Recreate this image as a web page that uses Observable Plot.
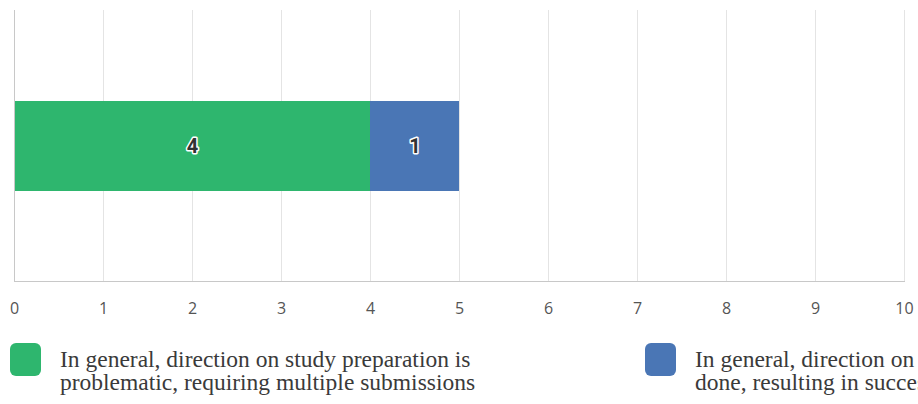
<!DOCTYPE html>
<html>
<head>
<meta charset="utf-8">
<script src="https://cdn.jsdelivr.net/npm/d3@7"></script>
<script src="https://cdn.jsdelivr.net/npm/@observablehq/plot@0.6"></script>
<style>
  html, body { margin: 0; padding: 0; background: #fff; overflow: hidden; }
  #wrap { width: 918px; overflow: hidden; }
  #legend { position: relative; width: 918px; height: 78px; overflow: hidden; }
  .item { position: absolute; top: 17px; display: flex; align-items: flex-start; }
  .swatch { width: 31px; height: 33px; border-radius: 6px; flex: none; }
  .label { margin-left: 19px; margin-top: 5px; width: 480px; font-family: "Liberation Serif", "DejaVu Serif", serif;
           font-size: 23.5px; line-height: 23px; color: #3a3a3a; white-space: normal; }
</style>
</head>
<body>
<div id="wrap">
  <div id="chart"></div>
  <div id="legend"></div>
</div>
<script>
// Responses for one row, stacked left to right
const categories = ["Study preparation"];
const series = [
  "In general, direction on study preparation is problematic, requiring multiple submissions",
  "In general, direction on study preparation is well done, resulting in successful submissions"
];
const values = [4, 1];
const colors = ["#2eb66e", "#4a76b5"];
const xTicks = [0, 1, 2, 3, 4, 5, 6, 7, 8, 9, 10];

const data = series.map((s, i) => ({category: categories[0], series: s, value: values[i]}));

const chart = Plot.plot({
  width: 918,
  height: 326,
  marginLeft: 14,
  marginRight: 14,
  marginTop: 10,
  marginBottom: 45,
  style: {fontFamily: "'Open Sans', Lato, sans-serif", background: "#fff"},
  x: {domain: [0, 10], ticks: xTicks, label: null},
  y: {domain: categories, padding: 0.5, label: null, axis: null},
  color: {domain: series, range: colors},
  marks: [
    Plot.gridX(xTicks, {stroke: "#e4e4e4", strokeOpacity: 1}),
    Plot.axisX(xTicks, {tickSize: 0, tickPadding: 21, fontSize: 16, fill: "#555", label: null}),
    Plot.barX(data, Plot.stackX({x: "value", y: "category", fill: "series", order: series})),
    Plot.text(data, Plot.stackX({
      x: "value", y: "category", z: "series", order: series, text: d => String(d.value),
      fill: "#333", stroke: "white", strokeWidth: 3, fontSize: 20, fontWeight: "bold",
      fontFamily: "Roboto, sans-serif"
    })),
    Plot.frame({anchor: "bottom", stroke: "#c8c8c8"}),
    Plot.frame({anchor: "left", stroke: "#c8c8c8"})
  ]
});
document.getElementById("chart").append(chart);

// Legend below the chart
const legend = d3.select("#legend");
const lefts = [10, 645];
series.forEach((s, i) => {
  const item = legend.append("div").attr("class", "item").style("left", lefts[i] + "px");
  item.append("div").attr("class", "swatch").style("background", colors[i]);
  item.append("div").attr("class", "label").text(s);
});
</script>
</body>
</html>
